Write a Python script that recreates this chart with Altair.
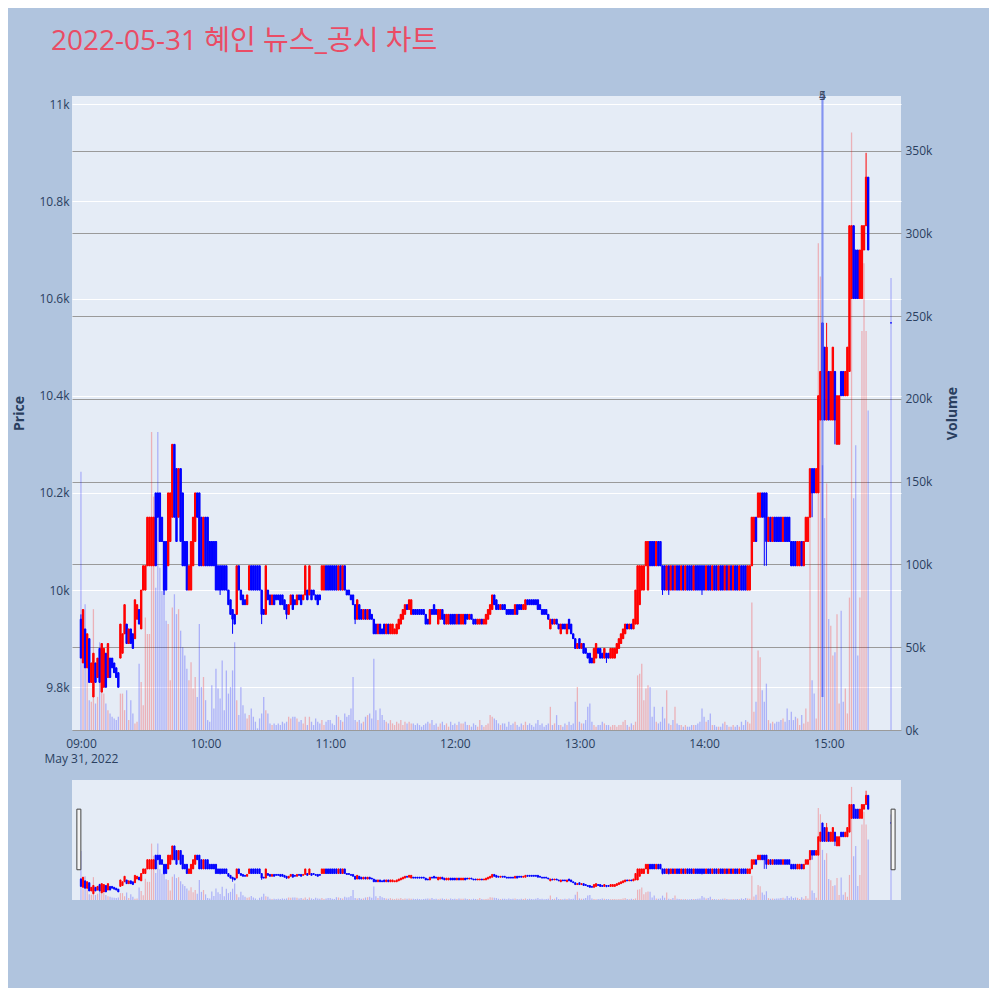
import altair as alt
import pandas as pd

TITLE = "2022-05-31 혜인 뉴스_공시 차트"
DAY = dict(year=2022, month=5, date=31)
DAY_STR = "2022-05-31"

# one candle per minute from 09:00
OPEN = [
    9940, 9850, 9920, 9840, 9900, 9810, 9780, 9850, 9820, 9880,
    9790, 9800, 9870, 9820, 9860, 9860, 9850, 9840, 9830, 9860,
    9870, 9910, 9930, 9890, 9920, 9910, 9900, 9940, 9960, 9920,
    10000, 10000, 10050, 10050, 10050, 10050, 10200, 10200, 10200, 10150,
    10100, 10100, 10050, 10100, 10150, 10300, 10250, 10150, 10250, 10200,
    10100, 10100, 10000, 10000, 10050, 10100, 10200, 10200, 10150, 10050,
    10150, 10150, 10100, 10100, 10100, 10100, 10050, 10050, 10050, 10050,
    10050, 10000, 9980, 9960, 9950, 9950, 10050, 10000, 9990, 9980,
    9970, 10000, 10050, 10050, 10050, 10050, 10050, 10000, 9960, 9950,
    10000, 9990, 9970, 9990, 9990, 9990, 9990, 9990, 9980, 9970,
    9950, 9970, 9990, 9980, 9970, 9990, 9990, 9980, 9990, 10000,
    9990, 10000, 10000, 9990, 9990, 9990, 10000, 10000, 10050, 10050,
    10050, 10050, 10050, 10050, 10000, 10050, 10000, 10050, 10000, 10000,
    9990, 9990, 9970, 9940, 9970, 9960, 9940, 9960, 9940, 9960,
    9950, 9940, 9930, 9910, 9930, 9920, 9930, 9910, 9930, 9910,
    9910, 9910, 9910, 9920, 9930, 9940, 9950, 9970, 9960, 9950,
    9960, 9960, 9960, 9960, 9960, 9960, 9950, 9940, 9930, 9960,
    9970, 9960, 9930, 9940, 9960, 9950, 9930, 9930, 9950, 9950,
    9950, 9930, 9950, 9930, 9930, 9950, 9950, 9940, 9950, 9940,
    9940, 9930, 9930, 9940, 9930, 9930, 9940, 9950, 9960, 9990,
    9980, 9970, 9960, 9970, 9970, 9960, 9960, 9960, 9960, 9950,
    9970, 9970, 9970, 9960, 9960, 9980, 9980, 9980, 9980, 9980,
    9980, 9970, 9960, 9960, 9960, 9950, 9920, 9940, 9930, 9940,
    9930, 9910, 9930, 9930, 9910, 9940, 9930, 9910, 9900, 9880,
    9900, 9880, 9890, 9880, 9870, 9870, 9860, 9850, 9860, 9880,
    9880, 9870, 9860, 9870, 9870, 9860, 9860, 9860, 9870, 9880,
    9890, 9900, 9910, 9930, 9920, 9930, 9920, 9930, 9930, 9970,
    10000, 10000, 10050, 10000, 10100, 10100, 10100, 10050, 10100, 10100,
    10050, 10050, 10000, 10050, 10000, 10050, 10000, 10050, 10050, 10000,
    10050, 10000, 10050, 10050, 10050, 10000, 10050, 10050, 10050, 10050,
    10050, 10000, 10050, 10050, 10000, 10050, 10050, 10000, 10050, 10050,
    10000, 10050, 10000, 10050, 10000, 10050, 10050, 10000, 10050, 10050,
    10050, 10000, 10000, 10050, 10100, 10150, 10150, 10150, 10200, 10200,
    10200, 10100, 10150, 10100, 10150, 10150, 10150, 10150, 10100, 10150,
    10150, 10150, 10100, 10100, 10100, 10050, 10050, 10100, 10050, 10100,
    10100, 10150, 10250, 10250, 10200, 10200, 10350, 10550, 10500, 10350,
    10450, 10350, 10350, 10450, 10300, 10300, 10450, 10450, 10400, 10400,
    10450, 10600, 10750, 10700, 10700, 10600, 10600, 10700, 10750, 10850,
]
CLOSE = [
    9860, 9960, 9840, 9910, 9810, 9850, 9870, 9810, 9860, 9810,
    9890, 9880, 9800, 9890, 9820, 9840, 9830, 9820, 9800, 9930,
    9910, 9970, 9890, 9920, 9890, 9880, 9980, 9970, 9930, 10000,
    10050, 10050, 10150, 10150, 10150, 10150, 10050, 10150, 10100, 10100,
    10000, 10000, 10200, 10200, 10300, 10150, 10100, 10250, 10100, 10050,
    10050, 10000, 10050, 10100, 10150, 10200, 10150, 10050, 10050, 10150,
    10050, 10050, 10050, 10050, 10050, 10000, 10000, 10000, 10000, 10000,
    10000, 9970, 9950, 9940, 9930, 10050, 10000, 9980, 9970, 9970,
    9990, 10050, 10000, 10000, 10000, 10000, 10000, 9950, 9950, 10050,
    9980, 9970, 9990, 9970, 9980, 9980, 9970, 9970, 9960, 9950,
    9970, 9990, 9960, 9970, 9990, 9980, 9970, 9990, 10050, 9980,
    10050, 9980, 9990, 9980, 9970, 9980, 10050, 10050, 10000, 10000,
    10000, 10000, 10000, 10000, 10050, 10000, 10050, 10000, 9990, 9990,
    9980, 9970, 9940, 9980, 9940, 9940, 9960, 9940, 9960, 9940,
    9940, 9910, 9910, 9930, 9910, 9910, 9910, 9930, 9910, 9930,
    9930, 9920, 9930, 9940, 9950, 9960, 9970, 9960, 9980, 9980,
    9950, 9950, 9950, 9950, 9950, 9950, 9930, 9930, 9960, 9950,
    9950, 9950, 9960, 9960, 9940, 9930, 9950, 9950, 9930, 9930,
    9930, 9950, 9930, 9950, 9950, 9930, 9940, 9950, 9940, 9930,
    9930, 9940, 9940, 9930, 9940, 9950, 9960, 9970, 9990, 9970,
    9960, 9960, 9970, 9960, 9960, 9950, 9950, 9950, 9950, 9970,
    9950, 9960, 9960, 9970, 9980, 9970, 9970, 9970, 9970, 9970,
    9960, 9960, 9950, 9950, 9950, 9940, 9940, 9930, 9940, 9930,
    9920, 9930, 9920, 9920, 9930, 9920, 9910, 9900, 9880, 9890,
    9880, 9890, 9870, 9870, 9860, 9850, 9850, 9880, 9890, 9870,
    9860, 9860, 9880, 9860, 9860, 9880, 9880, 9880, 9890, 9900,
    9910, 9920, 9930, 9920, 9930, 9920, 9940, 10000, 10050, 10050,
    10050, 10050, 10100, 10100, 10050, 10050, 10050, 10100, 10050, 10050,
    10000, 10000, 10050, 10000, 10050, 10000, 10050, 10000, 10000, 10050,
    10000, 10050, 10000, 10000, 10000, 10050, 10000, 10000, 10000, 10000,
    10000, 10050, 10000, 10000, 10050, 10000, 10000, 10050, 10000, 10000,
    10050, 10000, 10050, 10000, 10050, 10000, 10000, 10050, 10000, 10000,
    10000, 10050, 10050, 10150, 10150, 10100, 10200, 10200, 10150, 10150,
    10100, 10150, 10100, 10150, 10100, 10100, 10100, 10100, 10150, 10100,
    10100, 10100, 10050, 10050, 10050, 10100, 10100, 10050, 10100, 10150,
    10150, 10250, 10200, 10200, 10250, 10400, 10450, 10350, 10350, 10500,
    10350, 10450, 10500, 10350, 10400, 10400, 10400, 10400, 10450, 10500,
    10750, 10750, 10600, 10600, 10600, 10700, 10750, 10750, 10850, 10700,
]
# wicks that reach beyond the candle body (minute index -> price)
HIGH_WICK = {0: 9950, 44: 10300, 359: 10550, 378: 10900}
LOW_WICK = {40: 9990, 67: 9990, 73: 9910, 87: 9930, 99: 9940, 132: 9930,
            253: 9850, 280: 9990, 283: 9990, 299: 9990, 329: 10050,
            330: 10050, 352: 10150, 363: 10300}
# volume per minute, thousands of shares
VOLUME_K = [
    156, 72, 76, 58, 18, 17, 73, 16, 20, 53,
    51, 22, 16, 12, 10, 8, 7, 6, 8, 22,
    22, 12, 24, 6, 18, 10, 4, 5, 40, 29,
    15, 68, 58, 58, 180, 141, 86, 180, 98, 84,
    94, 66, 64, 30, 74, 82, 70, 73, 60, 50,
    45, 37, 30, 41, 25, 32, 20, 64, 26, 32,
    18, 6, 5, 27, 13, 37, 25, 19, 42, 12,
    36, 22, 26, 36, 53, 18, 9, 26, 15, 10,
    7, 9, 13, 8, 5, 1, 7, 10, 20, 12,
    10, 4, 3, 4, 3, 4, 3, 5, 4, 5,
    8, 7, 8, 8, 7, 5, 6, 4, 8, 3,
    8, 5, 3, 7, 5, 4, 6, 3, 5, 6,
    6, 4, 3, 9, 8, 6, 5, 10, 8, 9,
    13, 32, 6, 5, 6, 4, 5, 8, 9, 10,
    7, 43, 12, 6, 13, 9, 6, 5, 4, 6,
    4, 3, 5, 4, 6, 3, 5, 4, 5, 4,
    4, 3, 4, 3, 2, 3, 4, 5, 4, 6,
    3, 4, 2, 4, 5, 3, 4, 2, 5, 3,
    4, 3, 5, 4, 4, 5, 3, 3, 2, 4,
    3, 2, 6, 3, 2, 3, 4, 9, 8, 7,
    6, 4, 3, 4, 4, 2, 5, 3, 4, 5,
    3, 2, 4, 3, 5, 3, 4, 3, 2, 4,
    6, 3, 4, 2, 3, 4, 14, 3, 4, 9,
    3, 3, 2, 4, 3, 5, 3, 4, 17, 26,
    5, 4, 4, 6, 14, 16, 5, 3, 2, 3,
    3, 5, 4, 3, 3, 2, 3, 3, 2, 3,
    3, 5, 6, 3, 2, 4, 3, 5, 33, 34,
    40, 18, 25, 27, 26, 8, 14, 5, 4, 5,
    14, 7, 24, 4, 3, 6, 14, 4, 3, 3,
    2, 3, 2, 2, 3, 3, 3, 4, 5, 13,
    8, 5, 6, 10, 3, 3, 2, 2, 2, 4,
    5, 3, 2, 2, 3, 2, 3, 2, 5, 3,
    6, 5, 4, 77, 11, 17, 48, 44, 24, 17,
    28, 6, 4, 5, 4, 5, 5, 6, 7, 5,
    13, 6, 11, 6, 8, 7, 3, 9, 4, 13,
    5, 135, 30, 22, 7, 294, 274, 160, 128, 149,
    67, 63, 45, 47, 70, 16, 72, 17, 25, 10,
    80, 361, 140, 172, 45, 80, 241, 282, 241, 193,
]
# closing single-price auction
AUCTION_TIME = "15:30"
AUCTION_PRICE = 10550
AUCTION_VOLUME_K = 273
AUCTION_DIR = "down"

# news / disclosure marker
NEWS_TIME = "14:57"
NEWS_LABELS = ["4", "5"]
NEWS_LINE_LOW = 9780

PRICE_TICKS = [9800, 10000, 10200, 10400, 10600, 10800, 11000]
VOLUME_TICKS = [0, 50000, 100000, 150000, 200000, 250000, 300000, 350000]
PRICE_DOMAIN = [9712, 11017]
VOLUME_DOMAIN = [0, 383000]
HOUR_TICKS = [9, 10, 11, 12, 13, 14, 15]
X_START = (8, 58, 6)
X_END = (15, 32, 24)
HANDLE_TIMES = ["08:59:00", "15:31:00"]
HANDLE_PRICES = [10041, 10700]

UP, DOWN = "#ff0000", "#0000ff"
BG, PLOT_BG = "#b0c4de", "#e5ecf6"
AX = "#2a3f5f"
FONT = "Open Sans"
TITLE_FONT = "Open Sans, Noto Sans CJK KR"
TITLE_COLOR = "#ea4c65"

rows = []
for i, (o, c) in enumerate(zip(OPEN, CLOSE)):
    rows.append(dict(
        t=f"{DAY_STR}T{9 + i // 60:02d}:{i % 60:02d}:00",
        o=o, c=c,
        h=HIGH_WICK.get(i, max(o, c)), l=LOW_WICK.get(i, min(o, c)),
        v=VOLUME_K[i] * 1000, d="up" if c >= o else "down"))
rows.append(dict(t=f"{DAY_STR}T{AUCTION_TIME}:00", o=AUCTION_PRICE, c=AUCTION_PRICE,
                 h=AUCTION_PRICE, l=AUCTION_PRICE, v=AUCTION_VOLUME_K * 1000, d=AUCTION_DIR))
df = pd.DataFrame(rows)

news_df = pd.DataFrame([dict(t=f"{DAY_STR}T{NEWS_TIME}:00", p0=NEWS_LINE_LOW,
                             p1=PRICE_DOMAIN[1], label=lab) for lab in NEWS_LABELS])
handle_df = pd.DataFrame([dict(t=f"{DAY_STR}T{ht}", p0=HANDLE_PRICES[0], p1=HANDLE_PRICES[1])
                          for ht in HANDLE_TIMES])


def dt(h, m=0, s=0):
    return alt.DateTime(hours=h, minutes=m, seconds=s, **DAY)


x_scale = alt.Scale(domain=[dt(*X_START), dt(*X_END)])
x_axis = alt.Axis(
    values=[dt(h) for h in HOUR_TICKS],
    labelExpr="hours(datum.value) == 9 ? ['09:00', 'May 31, 2022'] : timeFormat(datum.value, '%H:%M')",
    title=None, grid=False, ticks=False, domain=False, labelPadding=8,
    labelFontSize=12, labelColor=AX, labelFont=FONT, labelOverlap=False,
    labelFlush=False, labelLineHeight=15)
X = alt.X("t:T", scale=x_scale, axis=x_axis)
SX = alt.X("t:T", scale=x_scale, axis=None)

cscale = alt.Scale(domain=["up", "down"], range=[UP, DOWN])
color = alt.Color("d:N", scale=cscale, legend=None)
stroke = alt.Stroke("d:N", scale=cscale, legend=None)

price_scale = alt.Scale(domain=PRICE_DOMAIN, nice=False, zero=False)
price_axis = alt.Axis(
    title="Price", orient="left", values=PRICE_TICKS, format="~s", grid=True,
    gridColor="white", gridWidth=1, ticks=False, domain=False, labelPadding=3,
    labelFontSize=12, labelColor=AX, labelFont=FONT, titleFont=FONT,
    titleFontSize=14, titleFontWeight="bold", titleColor=AX, titlePadding=12)
vol_scale = alt.Scale(domain=VOLUME_DOMAIN, nice=False, zero=True)
vol_axis = alt.Axis(
    title="Volume", orient="right", values=VOLUME_TICKS, format="~s", grid=True,
    gridColor="#9a9a9a", gridWidth=1, ticks=False, domain=False, labelPadding=4,
    labelFontSize=12, labelColor=AX, labelFont=FONT, titleFont=FONT,
    titleFontSize=14, titleFontWeight="bold", titleColor=AX, titleAngle=270,
    titleBaseline="top", titlePadding=14)

base = alt.Chart(df)

wicks = base.mark_rule(strokeWidth=1).encode(
    x=X, y=alt.Y("l:Q", scale=price_scale, axis=price_axis), y2="h:Q", color=color)
bodies = base.mark_bar(size=1.4, strokeWidth=1).encode(
    x=X, y=alt.Y("o:Q", scale=price_scale, axis=price_axis), y2="c:Q",
    color=color, stroke=stroke)
news_line = alt.Chart(news_df).mark_rule(strokeWidth=2, color="rgba(90,110,240,0.45)").encode(
    x=X, y=alt.Y("p0:Q", scale=price_scale, axis=price_axis), y2="p1:Q")
news_text = alt.Chart(news_df).mark_text(
    fontSize=12, font=FONT, color="#3a4a66", baseline="middle", align="center").encode(
    x=X, y=alt.Y("p1:Q", scale=price_scale, axis=price_axis), text="label:N")
price_layer = alt.layer(wicks, bodies, news_line, news_text)

vol = base.mark_bar(size=1.3, opacity=0.25, clip=True).encode(
    x=X, y=alt.Y("v:Q", scale=vol_scale, axis=vol_axis), color=color)

main = alt.layer(price_layer, vol).resolve_scale(y="independent").properties(
    width=829, height=634)

# range slider
s_wicks = base.mark_rule(strokeWidth=0.8).encode(
    x=SX, y=alt.Y("l:Q", scale=price_scale, axis=None), y2="h:Q", color=color)
s_bodies = base.mark_bar(size=1.2, strokeWidth=0.9).encode(
    x=SX, y=alt.Y("o:Q", scale=price_scale, axis=None), y2="c:Q",
    color=color, stroke=stroke)
s_vol = base.mark_bar(size=1.2, opacity=0.25, clip=True).encode(
    x=SX, y=alt.Y("v:Q", scale=vol_scale, axis=None), color=color)
handles = alt.Chart(handle_df).mark_bar(
    size=4, fill="#f4f4f4", stroke="#444444", strokeWidth=1).encode(
    x=SX, y=alt.Y("p0:Q", scale=price_scale, axis=None), y2="p1:Q")
slider = alt.layer(alt.layer(s_wicks, s_bodies), s_vol, handles).resolve_scale(
    y="independent").properties(width=829, height=120)

chart = alt.vconcat(main, slider, spacing=16).resolve_scale(
    x="independent", y="independent").properties(
    title=alt.TitleParams(TITLE, anchor="start", frame="bounds", fontSize=28,
                          font=TITLE_FONT, fontWeight="normal", color=TITLE_COLOR,
                          dx=38, offset=34),
    padding={"left": 4, "top": 20, "right": 29, "bottom": 88},
).configure(background=BG).configure_view(fill=PLOT_BG, stroke=None)

chart.save("out.html", embed_options={"renderer": "svg", "actions": False})
